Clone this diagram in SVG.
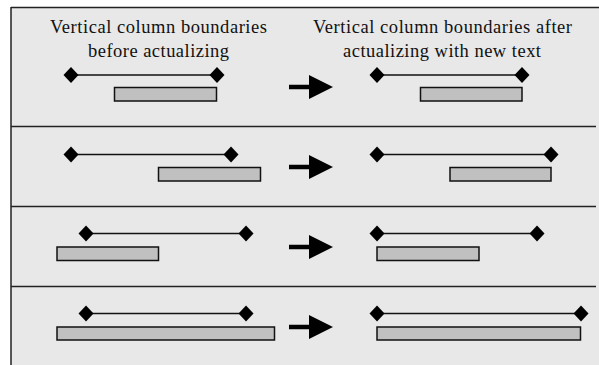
<svg xmlns="http://www.w3.org/2000/svg" width="599" height="365" viewBox="0 0 599 365">
<defs>
<style>
.txt{font-family:'Liberation Serif','DejaVu Serif',serif;font-size:18.5px;fill:#111;text-anchor:middle}
.ln{stroke:#111;stroke-width:1.6;fill:none}
.bar{fill:#c0c0c0;stroke:#111;stroke-width:1.5}
.sep{stroke:#222;stroke-width:1.5}
.dia{fill:#000}
.arr{fill:#000}
</style>
<path id="d" d="M0,-8 L7.5,0 L0,8 L-7.5,0 Z"/>
<path id="a" d="M0,-2.2 L20,-2.2 L20,-12 L44,0 L20,12 L20,2.2 L0,2.2 Z"/>
</defs>
<rect x="0" y="0" width="599" height="365" fill="#ffffff"/>
<rect x="11" y="7" width="588" height="358" fill="#e8e8e8"/>
<g id="frame">
<line class="sep" x1="11" y1="7.5" x2="599" y2="7.5"/>
<line class="sep" x1="11" y1="7" x2="11" y2="365"/>
<line class="sep" x1="11" y1="126.5" x2="596" y2="126.5"/>
<line class="sep" x1="11" y1="206.5" x2="596" y2="206.5"/>
<line class="sep" x1="11" y1="286.5" x2="596" y2="286.5"/>
</g>
<g id="header-left">
<text class="txt" x="158.5" y="33" textLength="217" lengthAdjust="spacing">Vertical column boundaries</text>
<text class="txt" x="158.5" y="57" textLength="141" lengthAdjust="spacing">before actualizing</text>
</g>
<g id="header-right">
<text class="txt" x="442.5" y="33" textLength="259" lengthAdjust="spacing">Vertical column boundaries after</text>
<text class="txt" x="442" y="57" textLength="198" lengthAdjust="spacing">actualizing with new text</text>
</g>
<g id="row1-before">
<line class="ln" x1="71" y1="75" x2="217" y2="75"/>
<use href="#d" class="dia" x="71" y="75"/>
<use href="#d" class="dia" x="217" y="75"/>
<rect class="bar" x="114.5" y="87.5" width="102" height="13.5"/>
</g>
<g id="row1-after">
<line class="ln" x1="377" y1="75" x2="522" y2="75"/>
<use href="#d" class="dia" x="377" y="75"/>
<use href="#d" class="dia" x="522" y="75"/>
<rect class="bar" x="420.5" y="87.5" width="101.5" height="13.5"/>
</g>
<g id="row2-before">
<line class="ln" x1="71" y1="154.5" x2="231" y2="154.5"/>
<use href="#d" class="dia" x="71" y="154.5"/>
<use href="#d" class="dia" x="231" y="154.5"/>
<rect class="bar" x="158.5" y="167.5" width="102" height="13.5"/>
</g>
<g id="row2-after">
<line class="ln" x1="377" y1="154.5" x2="551" y2="154.5"/>
<use href="#d" class="dia" x="377" y="154.5"/>
<use href="#d" class="dia" x="551" y="154.5"/>
<rect class="bar" x="450" y="167.5" width="101" height="13.5"/>
</g>
<g id="row3-before">
<line class="ln" x1="86" y1="233.5" x2="246" y2="233.5"/>
<use href="#d" class="dia" x="86" y="233.5"/>
<use href="#d" class="dia" x="246" y="233.5"/>
<rect class="bar" x="57" y="247" width="101.5" height="13.5"/>
</g>
<g id="row3-after">
<line class="ln" x1="377" y1="233.5" x2="537" y2="233.5"/>
<use href="#d" class="dia" x="377" y="233.5"/>
<use href="#d" class="dia" x="537" y="233.5"/>
<rect class="bar" x="377" y="247" width="102" height="13.5"/>
</g>
<g id="row4-before">
<line class="ln" x1="86" y1="313.5" x2="246" y2="313.5"/>
<use href="#d" class="dia" x="86" y="313.5"/>
<use href="#d" class="dia" x="246" y="313.5"/>
<rect class="bar" x="57" y="327" width="217.5" height="13"/>
</g>
<g id="row4-after">
<line class="ln" x1="377" y1="313.5" x2="581" y2="313.5"/>
<use href="#d" class="dia" x="377" y="313.5"/>
<use href="#d" class="dia" x="581" y="313.5"/>
<rect class="bar" x="377" y="327" width="203.5" height="13"/>
</g>
<g id="connectors">
<use href="#a" class="arr" x="289" y="87"/>
<use href="#a" class="arr" x="289" y="167"/>
<use href="#a" class="arr" x="289" y="247"/>
<use href="#a" class="arr" x="289" y="327"/>
</g>
</svg>
